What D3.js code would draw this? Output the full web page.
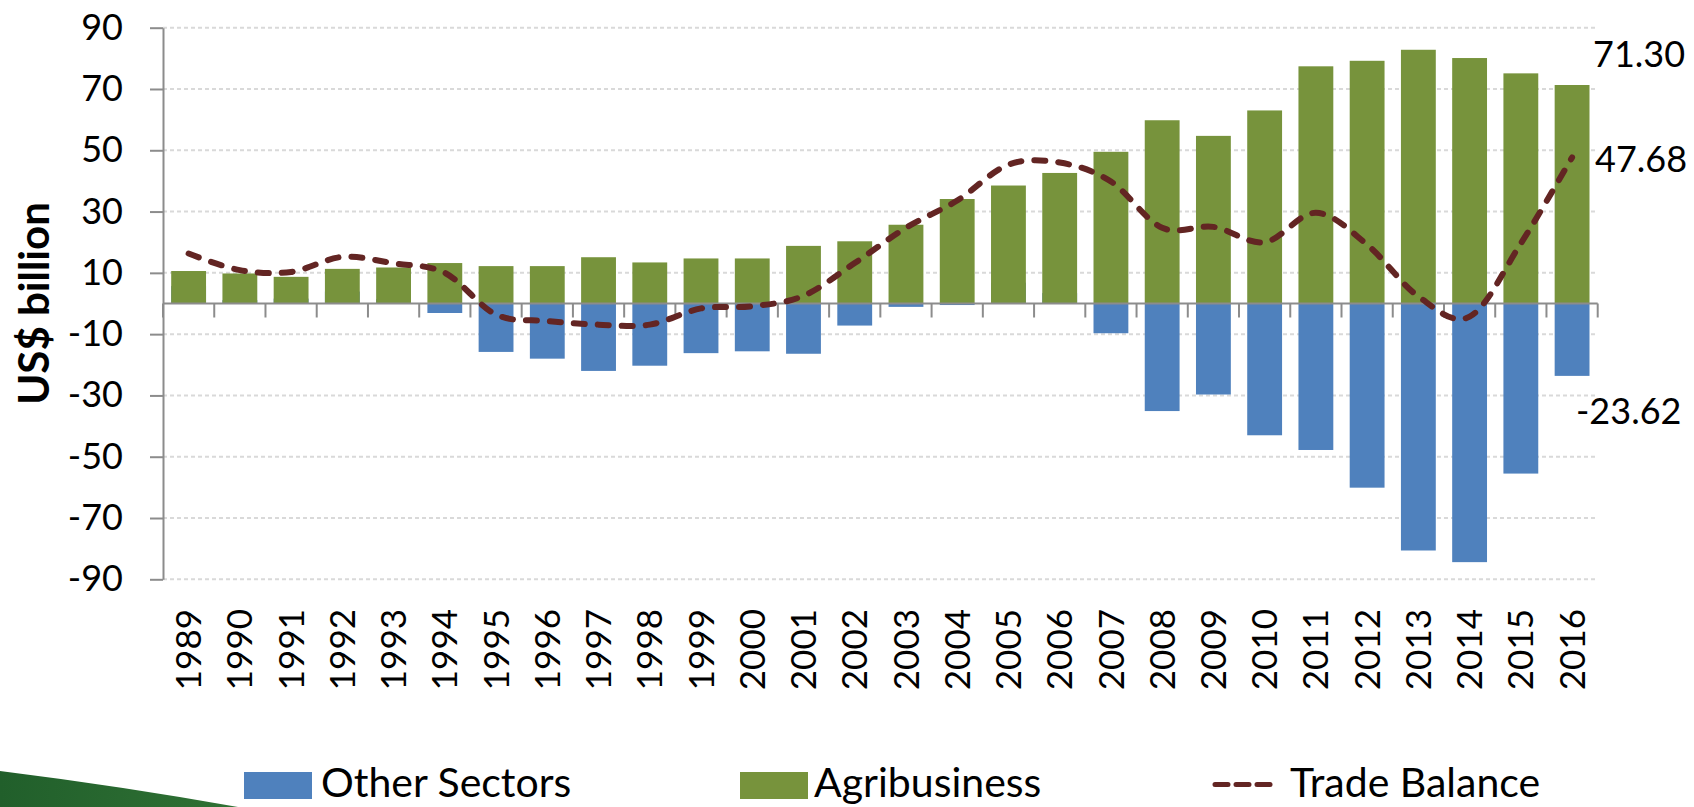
<!DOCTYPE html>
<meta charset="utf-8">
<style>

body {
  margin: 0;
  background: #fff;
}

text {
  font-family: Lato, "Open Sans", sans-serif;
  fill: #000;
}

.grid line {
  stroke: #d9d9d9;
  stroke-width: 2px;
  stroke-dasharray: 4,3;
}

.axis path,
.axis line {
  stroke: #8c8c8c;
  stroke-width: 2px;
}

.trade {
  fill: none;
  stroke: #632523;
  stroke-width: 6px;
  stroke-linecap: round;
  stroke-dasharray: 11,13;
}

</style>
<svg width="1694" height="807"></svg>
<script src="https://cdn.jsdelivr.net/npm/d3@7"></script>
<script>

var years = ["1989", "1990", "1991", "1992", "1993", "1994", "1995", "1996", "1997", "1998",
             "1999", "2000", "2001", "2002", "2003", "2004", "2005", "2006", "2007", "2008",
             "2009", "2010", "2011", "2012", "2013", "2014", "2015", "2016"];

// US$ billion (positive "other" values sit hidden behind the green bars)
var otherSectors = [5.7, 1.1, 1.6, 3.9, 1.4, -3.1, -15.8, -18.0, -22.0, -20.3,
                    -16.2, -15.6, -16.4, -7.2, -1.1, -0.5, 6.8, 3.4, -9.7, -35.1,
                    -29.7, -43.0, -47.8, -60.1, -80.6, -84.4, -55.5, -23.62];

var agribusiness = [10.6, 9.8, 8.7, 11.3, 11.75, 13.2, 12.2, 12.2, 15.1, 13.4,
                    14.7, 14.7, 18.8, 20.3, 25.7, 34.1, 38.5, 42.6, 49.5, 59.8,
                    54.7, 63.0, 77.4, 79.2, 82.8, 80.1, 75.1, 71.30];

var tradeBalance = [16.3, 10.9, 10.3, 15.2, 13.1, 10.0, -3.6, -5.7, -6.9, -6.9,
                    -1.6, -0.9, 2.5, 13.2, 24.7, 33.6, 45.3, 46.0, 39.8, 24.7,
                    25.0, 20.0, 29.6, 19.2, 2.3, -4.3, 19.6, 47.68];

var yTicks = [90, 70, 50, 30, 10, -10, -30, -50, -70, -90];

var endLabels = [
  {text: "71.30", x: 1593, y: 67},
  {text: "47.68", x: 1595, y: 172},
  {text: "-23.62", x: 1576, y: 424}
];

var svg = d3.select("svg");

var x = d3.scaleBand()
    .domain(years)
    .range([163, 1597.7])
    .paddingInner(0.32)
    .paddingOuter(0.16);

var y = d3.scaleLinear()
    .domain([-90, 90])
    .range([579.3, 27.7]);

var left = x.range()[0], right = x.range()[1];
var half = x.bandwidth() / 2;

// decorative swoosh bottom-left
var grad = svg.append("defs").append("linearGradient")
    .attr("id", "swoosh")
    .attr("x1", 0).attr("x2", 1);
grad.append("stop").attr("offset", 0).attr("stop-color", "#215f2b");
grad.append("stop").attr("offset", 1).attr("stop-color", "#2f7134");

svg.append("path")
    .attr("d", "M0,771 Q120,786 238,807 L0,807 Z")
    .attr("fill", "url(#swoosh)");

// gridlines
svg.append("g")
    .attr("class", "grid")
  .selectAll("line")
  .data(yTicks)
  .enter().append("line")
    .attr("x1", left)
    .attr("x2", right)
    .attr("y1", function(d) { return y(d); })
    .attr("y2", function(d) { return y(d); });

// bars: other sectors underneath, agribusiness on top (100% overlap)
svg.append("g")
  .selectAll("rect")
  .data(otherSectors)
  .enter().append("rect")
    .attr("x", function(d, i) { return x(years[i]); })
    .attr("width", x.bandwidth())
    .attr("y", function(d) { return y(Math.max(0, d)); })
    .attr("height", function(d) { return Math.abs(y(d) - y(0)); })
    .attr("fill", "#4f81bd");

svg.append("g")
  .selectAll("rect")
  .data(agribusiness)
  .enter().append("rect")
    .attr("x", function(d, i) { return x(years[i]); })
    .attr("width", x.bandwidth())
    .attr("y", function(d) { return y(Math.max(0, d)); })
    .attr("height", function(d) { return Math.abs(y(d) - y(0)); })
    .attr("fill", "#77933c");

// y axis
var yAxis = svg.append("g")
    .attr("class", "axis")
    .attr("transform", "translate(" + left + ",0)")
    .call(d3.axisLeft(y)
        .tickValues(yTicks)
        .tickFormat(function(d) { return String(d); })
        .tickSize(13)
        .tickPadding(27)
        .tickSizeOuter(0));

yAxis.selectAll("text")
    .style("font-size", "36px")
    .style("font-family", "Lato, sans-serif");

// category axis along zero
var xAxis = svg.append("g")
    .attr("class", "axis");

xAxis.append("line")
    .attr("x1", left)
    .attr("x2", right)
    .attr("y1", y(0))
    .attr("y2", y(0));

var bounds = years.map(function(d) { return x(d) - (x.step() - x.bandwidth()) / 2; });
bounds.push(right);

xAxis.selectAll(".tick")
  .data(bounds)
  .enter().append("line")
    .attr("x1", function(d) { return d; })
    .attr("x2", function(d) { return d; })
    .attr("y1", y(0))
    .attr("y2", y(0) + 14);

svg.append("g")
  .selectAll("text")
  .data(years)
  .enter().append("text")
    .attr("transform", function(d) { return "translate(" + (x(d) + half) + ",609) rotate(-90)"; })
    .attr("text-anchor", "end")
    .attr("dy", "0.36em")
    .style("font-size", "35px")
    .text(function(d) { return d; });

// trade balance line
var line = d3.line()
    .x(function(d, i) { return x(years[i]) + half; })
    .y(function(d) { return y(d); })
    .curve(d3.curveCatmullRom.alpha(0));

svg.append("path")
    .datum(tradeBalance)
    .attr("class", "trade")
    .attr("d", line);

// labels at 2016
svg.append("g")
  .selectAll("text")
  .data(endLabels)
  .enter().append("text")
    .attr("x", function(d) { return d.x; })
    .attr("y", function(d) { return d.y; })
    .style("font-size", "36px")
    .text(function(d) { return d.text; });

// axis title
svg.append("text")
    .attr("transform", "translate(49," + y(0) + ") rotate(-90)")
    .attr("text-anchor", "middle")
    .style("font-size", "42px")
    .style("font-weight", "bold")
    .text("US$ billion");

// legend
var legend = svg.append("g");

legend.append("rect")
    .attr("x", 244).attr("y", 772).attr("width", 68).attr("height", 27)
    .attr("fill", "#4f81bd");
legend.append("text")
    .attr("x", 321).attr("y", 797)
    .style("font-size", "41px")
    .text("Other Sectors");

legend.append("rect")
    .attr("x", 740).attr("y", 772).attr("width", 68).attr("height", 27)
    .attr("fill", "#77933c");
legend.append("text")
    .attr("x", 814).attr("y", 797)
    .style("font-size", "41px")
    .text("Agribusiness");

legend.append("line")
    .attr("x1", 1215).attr("x2", 1271)
    .attr("y1", 784.5).attr("y2", 784.5)
    .attr("stroke", "#632523")
    .attr("stroke-width", 5)
    .attr("stroke-linecap", "round")
    .attr("stroke-dasharray", "13,8");
legend.append("text")
    .attr("x", 1290).attr("y", 797)
    .style("font-size", "41px")
    .text("Trade Balance");

</script>
